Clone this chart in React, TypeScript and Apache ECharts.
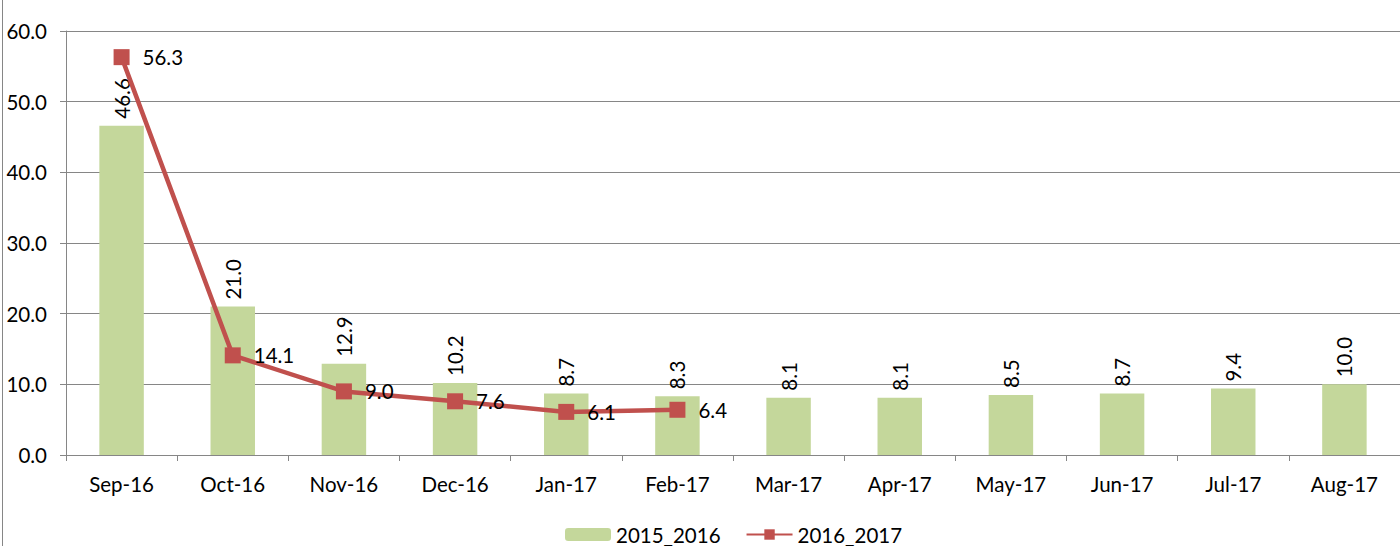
import React, { useEffect, useRef } from "react";
import * as echarts from "echarts";

const categories = ["Sep-16", "Oct-16", "Nov-16", "Dec-16", "Jan-17", "Feb-17", "Mar-17", "Apr-17", "May-17", "Jun-17", "Jul-17", "Aug-17"];
const series2015_2016 = [46.6, 21.0, 12.9, 10.2, 8.7, 8.3, 8.1, 8.1, 8.5, 8.7, 9.4, 10.0];
const series2016_2017: (number | null)[] = [56.3, 14.1, 9.0, 7.6, 6.1, 6.4, null, null, null, null, null, null];
const seriesNames = ["2015_2016", "2016_2017"];

const FONT = "Lato, 'Liberation Sans', sans-serif";
const FS = 20.5;

export default function App() {
  const ref = useRef<HTMLDivElement>(null);
  useEffect(() => {
    if (!ref.current) return;
    const chart = echarts.init(ref.current, null, { renderer: "svg" });
    chart.setOption({
      animation: false,
      backgroundColor: "#ffffff",
      textStyle: { fontFamily: FONT },
      graphic: [
        { type: "line", shape: { x1: 2.5, y1: 0, x2: 2.5, y2: 546 }, style: { stroke: "#868686", lineWidth: 1 } },
      ],
      grid: { left: 66, top: 31, width: 1340, bottom: 91, containLabel: false },
      legend: {
        top: 519,
        left: 560,
        itemWidth: 46,
        itemHeight: 13,
        itemGap: 25,
        textStyle: { fontSize: FS, color: "#000", fontFamily: FONT },
        data: seriesNames,
      },
      xAxis: {
        type: "category",
        data: categories,
        boundaryGap: true,
        axisLine: { lineStyle: { color: "#868686", width: 1 } },
        axisTick: { show: true, length: 6, alignWithLabel: false, lineStyle: { color: "#868686" } },
        axisLabel: { fontSize: FS, color: "#000", margin: 18, fontFamily: FONT },
      },
      yAxis: {
        type: "value",
        min: 0,
        max: 60,
        interval: 10,
        axisLine: { show: true, lineStyle: { color: "#868686", width: 1 } },
        axisTick: { show: true, length: 6, lineStyle: { color: "#868686" } },
        splitLine: { show: true, lineStyle: { color: "#868686", width: 1 } },
        axisLabel: { fontSize: FS, color: "#000", margin: 19, formatter: (v: number) => v.toFixed(1), fontFamily: FONT },
      },
      series: [
        {
          name: seriesNames[0],
          type: "bar",
          data: series2015_2016,
          barWidth: "40%",
          itemStyle: { color: "#C4D79B" },
          label: {
            show: true,
            position: "top",
            rotate: 90,
            align: "left",
            verticalAlign: "middle",
            distance: 7,
            fontSize: FS,
            color: "#000",
            fontFamily: FONT,
            formatter: (p: any) => Number(p.value).toFixed(1),
          },
        },
        {
          name: seriesNames[1],
          type: "line",
          data: series2016_2017,
          symbol: "rect",
          symbolSize: 16,
          lineStyle: { color: "#C0504D", width: 4.5 },
          itemStyle: { color: "#C0504D" },
          label: {
            show: true,
            position: "right",
            distance: 13,
            fontSize: FS,
            color: "#000",
            fontFamily: FONT,
            formatter: (p: any) => Number(p.value).toFixed(1),
          },
        },
      ],
    });
    return () => chart.dispose();
  }, []);
  return <div ref={ref} style={{ position: "fixed", left: 0, top: 0, width: 1400, height: 546 }} />;
}
